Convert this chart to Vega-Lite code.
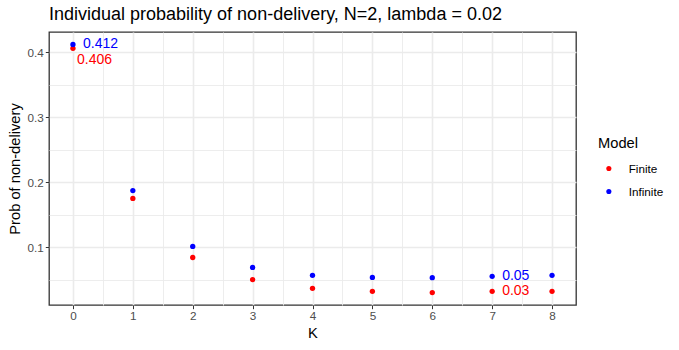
{
  "$schema": "https://vega.github.io/schema/vega-lite/v6.json",
  "width": 527,
  "height": 273,
  "autosize": {"type": "none"},
  "padding": {"left": 49, "top": 32, "right": 103, "bottom": 45},
  "background": "white",
  "title": {
    "text": "Individual probability of non-delivery, N=2, lambda = 0.02",
    "anchor": "start",
    "frame": "group",
    "font": "Liberation Sans",
    "fontSize": 18,
    "fontWeight": "normal",
    "color": "black",
    "offset": 8
  },
  "config": {
    "font": "Liberation Sans",
    "view": {"stroke": "#333333", "strokeWidth": 1.3},
    "axis": {
      "domain": false,
      "labelFont": "Liberation Sans",
      "labelFontSize": 11.7,
      "labelColor": "#4D4D4D",
      "titleFont": "Liberation Sans",
      "titleFontSize": 14.7,
      "titleFontWeight": "normal",
      "titleColor": "black",
      "tickColor": "#333333",
      "tickSize": 3.7,
      "tickWidth": 1,
      "labelPadding": 2,
      "gridColor": "#EBEBEB"
    }
  },
  "datasets": {
    "pts": [
      {"K": 0, "prob": 0.406, "Model": "Finite"},
      {"K": 1, "prob": 0.175, "Model": "Finite"},
      {"K": 2, "prob": 0.084, "Model": "Finite"},
      {"K": 3, "prob": 0.050, "Model": "Finite"},
      {"K": 4, "prob": 0.0365, "Model": "Finite"},
      {"K": 5, "prob": 0.032, "Model": "Finite"},
      {"K": 6, "prob": 0.030, "Model": "Finite"},
      {"K": 7, "prob": 0.032, "Model": "Finite"},
      {"K": 8, "prob": 0.032, "Model": "Finite"},
      {"K": 0, "prob": 0.412, "Model": "Infinite"},
      {"K": 1, "prob": 0.187, "Model": "Infinite"},
      {"K": 2, "prob": 0.101, "Model": "Infinite"},
      {"K": 3, "prob": 0.0687, "Model": "Infinite"},
      {"K": 4, "prob": 0.0565, "Model": "Infinite"},
      {"K": 5, "prob": 0.0534, "Model": "Infinite"},
      {"K": 6, "prob": 0.053, "Model": "Infinite"},
      {"K": 7, "prob": 0.055, "Model": "Infinite"},
      {"K": 8, "prob": 0.0565, "Model": "Infinite"}
    ],
    "labs": [
      {"K": 0, "prob": 0.412, "Model": "Infinite", "label": "0.412", "group": "side"},
      {"K": 0, "prob": 0.406, "Model": "Finite", "label": "0.406", "group": "below"},
      {"K": 7, "prob": 0.055, "Model": "Infinite", "label": "0.05", "group": "side"},
      {"K": 7, "prob": 0.032, "Model": "Finite", "label": "0.03", "group": "side"}
    ]
  },
  "encoding": {
    "x": {
      "field": "K",
      "type": "quantitative",
      "scale": {"domain": [-0.4, 8.4], "nice": false, "zero": false},
      "axis": {
        "title": "K",
        "values": [0, 0.5, 1, 1.5, 2, 2.5, 3, 3.5, 4, 4.5, 5, 5.5, 6, 6.5, 7, 7.5, 8],
        "labelExpr": "abs(datum.value - round(datum.value)) > 0.01 ? '' : format(datum.value, 'd')",
        "tickOpacity": {"condition": {"test": "abs(datum.value - round(datum.value)) > 0.01", "value": 0}, "value": 1},
        "gridWidth": {"condition": {"test": "abs(datum.value - round(datum.value)) > 0.01", "value": 0.9}, "value": 1.6},
        "titlePadding": 3
      }
    },
    "y": {
      "field": "prob",
      "type": "quantitative",
      "scale": {"domain": [0.0109, 0.4311], "nice": false, "zero": false},
      "axis": {
        "title": "Prob of non-delivery",
        "values": [0.05, 0.1, 0.15, 0.2, 0.25, 0.3, 0.35, 0.4],
        "labelExpr": "abs(datum.value * 10 - round(datum.value * 10)) > 0.01 ? '' : format(datum.value, '.1f')",
        "tickOpacity": {"condition": {"test": "abs(datum.value * 10 - round(datum.value * 10)) > 0.01", "value": 0}, "value": 1},
        "gridWidth": {"condition": {"test": "abs(datum.value * 10 - round(datum.value * 10)) > 0.01", "value": 0.9}, "value": 1.6},
        "titlePadding": 5
      }
    },
    "color": {
      "field": "Model",
      "type": "nominal",
      "scale": {"domain": ["Finite", "Infinite"], "range": ["#FF0000", "#0000FF"]},
      "legend": {
        "title": "Model",
        "orient": "none",
        "legendX": 549,
        "legendY": 104,
        "titleFont": "Liberation Sans",
        "titleFontSize": 14.7,
        "titleFontWeight": "normal",
        "titleColor": "black",
        "titlePadding": 12,
        "labelFont": "Liberation Sans",
        "labelFontSize": 11.7,
        "labelColor": "black",
        "labelOffset": 14,
        "symbolOffset": 5,
        "symbolSize": 26,
        "symbolType": "circle",
        "rowPadding": 10,
        "padding": 0
      }
    }
  },
  "layer": [
    {
      "data": {"name": "pts"},
      "mark": {"type": "point", "filled": true, "size": 28, "opacity": 1}
    },
    {
      "data": {"name": "labs"},
      "transform": [{"filter": "datum.group == 'side'"}],
      "mark": {"type": "text", "align": "left", "baseline": "middle", "dx": 10, "dy": 0, "fontSize": 14, "font": "Liberation Sans"},
      "encoding": {"text": {"field": "label"}}
    },
    {
      "data": {"name": "labs"},
      "transform": [{"filter": "datum.group == 'below'"}],
      "mark": {"type": "text", "align": "left", "baseline": "middle", "dx": 4, "dy": 12, "fontSize": 14, "font": "Liberation Sans"},
      "encoding": {"text": {"field": "label"}}
    }
  ]
}
